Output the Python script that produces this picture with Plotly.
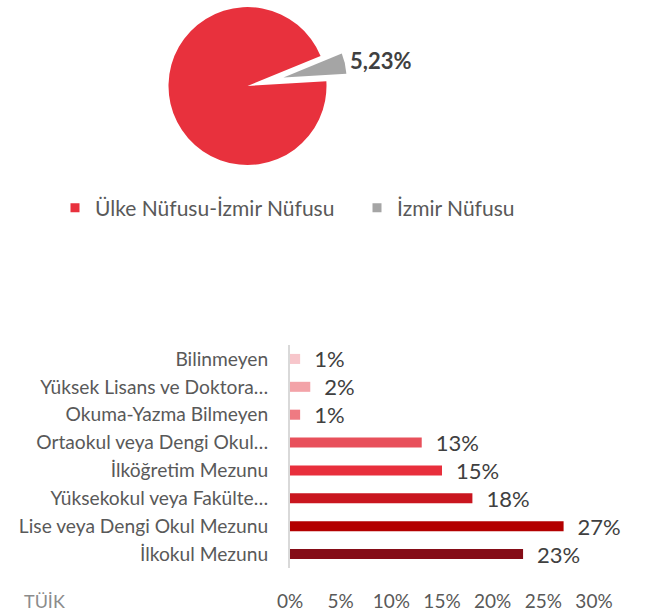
import plotly.graph_objects as go

# ---- data ----
pie_labels = ["Ülke Nüfusu-İzmir Nüfusu", "İzmir Nüfusu"]
pie_values = [94.77, 5.23]
pie_colors = ["#e8313d", "#a5a5a5"]

edu_labels = [
    "Bilinmeyen",
    "Yüksek Lisans ve Doktora…",
    "Okuma-Yazma Bilmeyen",
    "Ortaokul veya Dengi Okul…",
    "İlköğretim Mezunu",
    "Yüksekokul veya Fakülte…",
    "Lise veya Dengi Okul Mezunu",
    "İlkokul Mezunu",
]
edu_values = [0.01, 0.02, 0.01, 0.13, 0.15, 0.18, 0.27, 0.23]
edu_colors = ["#f7c6cb", "#f3a3a8", "#ef7a82", "#e8505b", "#e82f3c", "#c9161f", "#b30000", "#850c17"]

x_ticks = [0, 0.05, 0.10, 0.15, 0.20, 0.25, 0.30]
source_text = "TÜİK"

W, H = 646, 612
FONT = "Lato"


def px_dom_x(a, b):
    return [a / W, b / W]


def px_dom_y(top, bottom):
    return [max(0, 1 - bottom / H), min(1, 1 - top / H)]


fig = go.Figure()

# main pie (gray slice hidden -> leaves the gap)
r1 = 79
cx1, cy1 = 247.5, 86
fig.add_trace(go.Pie(
    labels=pie_labels, values=pie_values, sort=False, direction="clockwise",
    rotation=86.5,
    marker=dict(colors=[pie_colors[0], "rgba(0,0,0,0)"], line=dict(width=0)),
    textinfo="none", showlegend=False, hoverinfo="skip",
    domain=dict(x=px_dom_x(cx1 - r1, cx1 + r1), y=px_dom_y(cy1 - r1, cy1 + r1)),
))
# exploded slice
r2 = 63
cx2, cy2 = 283.5, 77.5
fig.add_trace(go.Pie(
    labels=pie_labels, values=pie_values, sort=False, direction="clockwise",
    rotation=86.5,
    marker=dict(colors=["rgba(0,0,0,0)", pie_colors[1]], line=dict(width=0)),
    textinfo="none", showlegend=False, hoverinfo="skip",
    domain=dict(x=px_dom_x(cx2 - r2, cx2 + r2), y=px_dom_y(cy2 - r2, cy2 + r2)),
))

# pie value label
share = pie_values[1] / sum(pie_values) * 100
fig.add_annotation(
    text="<b>" + f"{share:.2f}".replace(".", ",") + "%</b>",
    xref="paper", yref="paper", x=348 / W, y=1 - 61 / H,
    xanchor="left", yanchor="middle", showarrow=False,
    font=dict(family=FONT, size=22, color="#404040"),
)

# legend entries
for lab, col in zip(pie_labels, pie_colors):
    fig.add_trace(go.Scatter(
        x=[None], y=[None], mode="markers", name=lab,
        marker=dict(symbol="square", size=9, color=col),
        showlegend=True, hoverinfo="skip",
    ))

fig.add_trace(go.Bar(
    y=edu_labels, x=edu_values, orientation="h",
    marker=dict(color=edu_colors, line=dict(width=0)),
    texttemplate="\u2002%{x:.0%}", textposition="outside",
    textfont=dict(family=FONT, size=22, color="#404040"),
    constraintext="none", cliponaxis=False,
    showlegend=False, hoverinfo="skip",
))

fig.add_annotation(
    text=source_text, xref="paper", yref="paper",
    x=22 / W, y=1 - 601 / H, xanchor="left", yanchor="middle",
    showarrow=False, font=dict(family=FONT, size=18, color="#8c8c8c"),
)

fig.update_layout(
    width=W, height=H,
    margin=dict(l=0, r=0, t=0, b=0, autoexpand=False),
    paper_bgcolor="white", plot_bgcolor="white",
    separators=",.",
    font=dict(family=FONT, color="#595959"),
    bargap=0.64,
    legend=dict(
        orientation="h", x=55 / W, xanchor="left", y=1 - 208 / H, yanchor="middle",
        font=dict(family=FONT, size=21, color="#595959"),
        bgcolor="rgba(0,0,0,0)", itemclick=False,
        entrywidth=257, entrywidthmode="pixels",
    ),
    xaxis=dict(
        domain=px_dom_x(290, 594), range=[0, 0.30], tickvals=x_ticks, tickformat=".0%",
        showgrid=False, zeroline=False, showline=False, ticks="",
        tickfont=dict(family=FONT, size=19, color="#595959"), ticklabelstandoff=20,
    ),
    yaxis=dict(
        domain=px_dom_y(345, 568), autorange="reversed", type="category",
        showgrid=False, zeroline=False, showline=True, linecolor="#d9d9d9", linewidth=2,
        ticks="", tickfont=dict(family=FONT, size=19.2, color="#595959"), ticklabelstandoff=16,
    ),
)

fig.write_html(
    "out.html",
    config={"displayModeBar": False},
    post_script="document.body.style.margin='0px';document.body.style.overflow='hidden';",
)
